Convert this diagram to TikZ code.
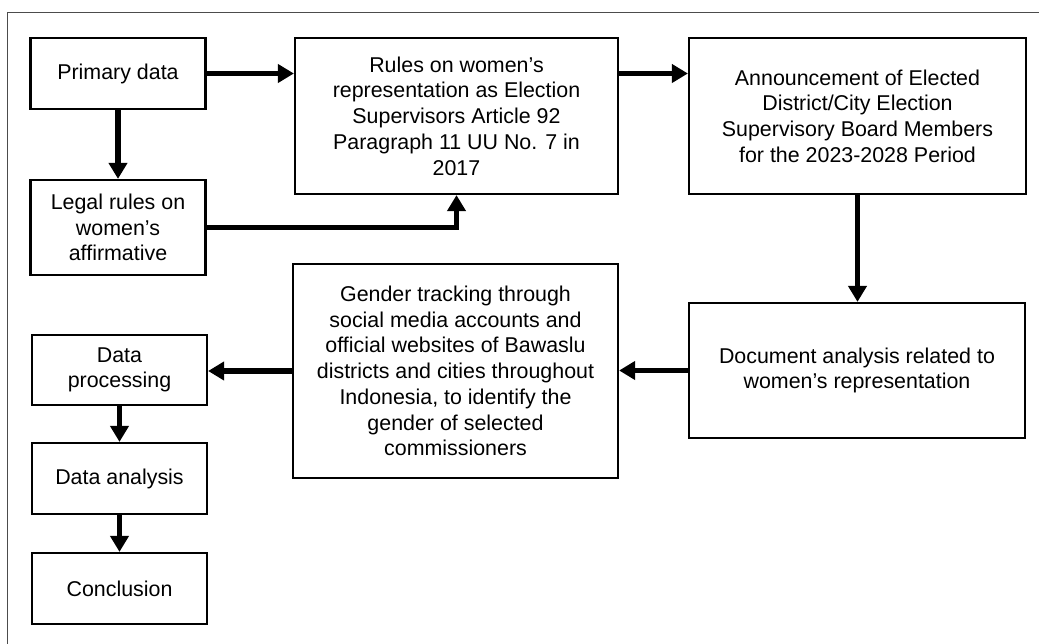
\documentclass[tikz,border=0pt]{standalone}
\usepackage{fontspec}
\setmainfont{Liberation Sans}
\usepackage{tikz}
\usetikzlibrary{positioning}
\usetikzlibrary{arrows.meta}
\tikzset{
  stepbox/.style={draw, line width=2.2pt, align=center, inner sep=0pt,
    font=\fontsize{21.4}{25.7}\selectfont},
  flow/.style={->, >={Triangle[length=16pt,width=18pt]}, line width=5.5pt},
}

\begin{document}
\begin{tikzpicture}[x=1pt,y=-1pt]
\useasboundingbox (0,0) rectangle (1039,644);
%\draw (0,0) rectangle (1039,644);
\draw[line width=0.8pt, black!70] (1039,12) -- (7,12) -- (7,644);
% left column
\node[stepbox, minimum width=175pt, minimum height=71pt] (primary) at (118,73.5) {Primary data};
\node[stepbox, minimum width=175pt, minimum height=95pt] (legal) at (118,227.5) {Legal rules on\\women’s\\affirmative};
% top row
\node[stepbox, minimum width=323pt, minimum height=156pt] (rules) at (456.5,116) {Rules on women’s\\representation as Election\\Supervisors Article 92\\Paragraph 11 UU No. 7 in\\2017};
\node[stepbox, minimum width=337pt, minimum height=156pt] (announce) at (857.5,116) {Announcement of Elected\\District/City Election\\Supervisory Board Members\\for the 2023-2028 Period};
% middle row
\node[stepbox, minimum width=336pt, minimum height=135pt] (docanalysis) at (857,370.5) {Document analysis related to\\women’s representation};
\node[stepbox, minimum width=325pt, minimum height=214pt] (tracking) at (455.5,371) {Gender tracking through\\social media accounts and\\official websites of Bawaslu\\districts and cities throughout\\Indonesia, to identify the\\gender of selected\\commissioners};
% bottom left column
\node[stepbox, minimum width=175pt, minimum height=70pt] (dataproc) at (119.5,370) {Data\\processing};
\node[stepbox, minimum width=175pt, minimum height=71pt] (dataanal) at (119.5,478.5) {Data analysis};
\node[stepbox, minimum width=175pt, minimum height=71pt] (concl) at (119.5,588.5) {Conclusion};
% arrows
\draw[flow] (primary.east) -- (primary.east -| rules.west);
\draw[flow] (primary) -- (legal);
\draw[flow] (legal.east) -| (rules.south);
\draw[flow] (rules.east |- primary) -- (announce.west |- primary);
\draw[flow] (announce.south) -- (announce.south |- docanalysis.north);
\draw[flow] (docanalysis.west) -- (docanalysis.west -| tracking.east);
\draw[flow] (tracking.west) -- (tracking.west -| dataproc.east);
\draw[flow] (dataproc) -- (dataanal);
\draw[flow] (dataanal) -- (concl);
\end{tikzpicture}
\end{document}
